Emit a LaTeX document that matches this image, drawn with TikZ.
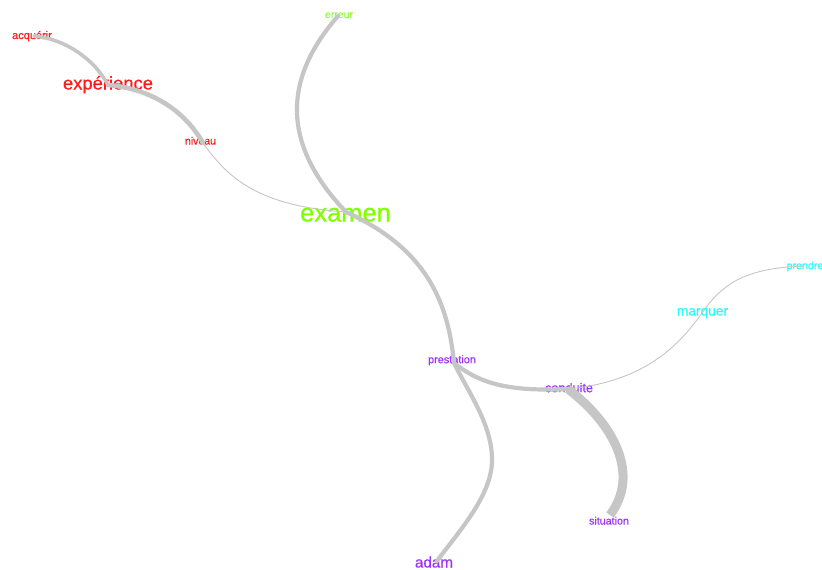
\documentclass[tikz,border=0pt]{standalone}
\usepackage{fontspec}
\setmainfont{Liberation Sans}[FakeBold=0.5]
\definecolor{cred}{RGB}{255,25,25}
\definecolor{cgreen}{RGB}{128,255,0}
\definecolor{cgreenl}{RGB}{150,250,60}
\definecolor{cpurple}{RGB}{155,48,255}
\definecolor{ccyan}{RGB}{40,250,250}
\definecolor{cedge}{RGB}{198,198,198}
\tikzset{
  lbl/.style={inner sep=0pt, anchor=base},
  thickedge/.style={draw=cedge, line width=4.2pt, line cap=round},
  heavyedge/.style={draw=cedge, line width=9pt},
  thinedge/.style={draw=cedge, line width=0.9pt},
}
\begin{document}
\begin{tikzpicture}[x=1pt,y=-1pt]
\useasboundingbox (0,0) rectangle (822,570);
\fill[white] (0,0) rectangle (822,570);
\clip (0,0) rectangle (822,570);
% vertex points
\coordinate (pacq) at (34,36);
\coordinate (pexp) at (108,85);
\coordinate (pniv) at (203,143);
\coordinate (perr) at (338,16);
\coordinate (pexa) at (346,212);
\coordinate (ppre) at (454,363);
\coordinate (pcon) at (568,389);
\coordinate (pmar) at (702,313);
\coordinate (pprd) at (804,266);
\coordinate (psit) at (610,515);
\coordinate (pada) at (437,561);
\coordinate (pbend) at (492,460);
% labels
\node[lbl, text=cred, font=\fontsize{11}{11}\selectfont] (acquerir) at (32,39) {acquérir};
\node[lbl, text=cred, font=\fontsize{18.4}{18}\selectfont] (experience) at (108,89.5) {expérience};
\node[lbl, text=cred, font=\fontsize{10.5}{10}\selectfont] (niveau) at (200.5,144.5) {niveau};
\node[lbl, text=cgreenl, font=\fontsize{10.5}{10}\selectfont] (erreur) at (339,18) {erreur};
\node[lbl, text=cgreen, font=\fontsize{25.5}{25}\selectfont] (examen) at (345.5,221.5) {examen};
\node[lbl, text=cpurple, font=\fontsize{10.9}{11}\selectfont] (prestation) at (452,363.2) {prestation};
\node[lbl, text=cpurple, font=\fontsize{12.7}{12}\selectfont] (conduite) at (569,392.2) {conduite};
\node[lbl, text=ccyan, font=\fontsize{13.7}{13}\selectfont] (marquer) at (702.5,315.5) {marquer};
\node[lbl, text=ccyan, font=\fontsize{10.7}{11}\selectfont] (prendre) at (805,269.2) {prendre};
\node[lbl, text=cpurple, font=\fontsize{10.7}{11}\selectfont] (situation) at (609,524.5) {situation};
\node[lbl, text=cpurple, font=\fontsize{15.2}{15}\selectfont] (adam) at (434,567.5) {adam};
% edges
\path[thickedge, line width=3.6pt] (pacq) .. controls (66,39) and (95,60) .. (pexp);
\path[thickedge, line width=4.6pt] (pexp) .. controls (145,88) and (182,106) .. (pniv);
\path[thinedge] (pniv) .. controls (228,178) and (258,206) .. (pexa);
\path[thickedge] (perr) .. controls (282,80) and (282,145) .. (pexa);
\path[thickedge] (pexa) .. controls (425,248) and (448,300) .. (ppre);
\path[thickedge] (ppre) .. controls (470,395) and (492,425) .. (pbend)
                 .. controls (492,495) and (460,530) .. (pada);
\path[thickedge] (ppre) .. controls (478,382) and (505,392) .. (pcon);
\path[heavyedge] (pcon) .. controls (615,425) and (640,475) .. (psit);
\path[thinedge] (pcon) .. controls (640,382) and (676,350) .. (pmar);
\path[thinedge] (pmar) .. controls (722,284) and (745,268) .. (pprd);
\end{tikzpicture}
\end{document}
